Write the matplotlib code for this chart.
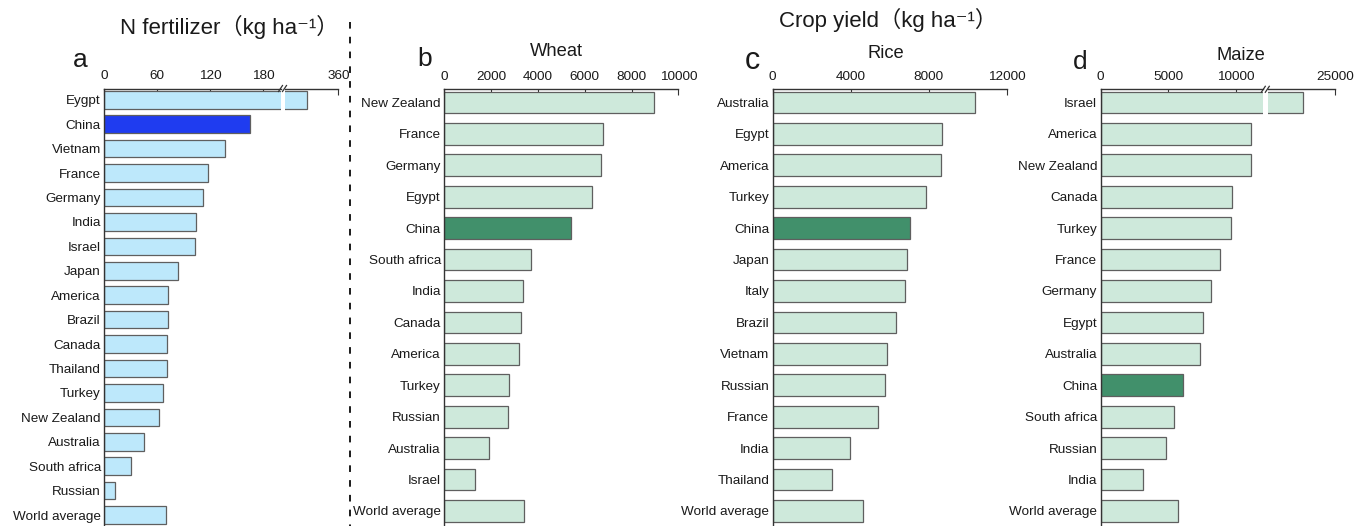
import matplotlib
matplotlib.use("Agg")
import matplotlib.pyplot as plt
from matplotlib.lines import Line2D

plt.rcParams['font.family'] = ['Liberation Sans', 'Noto Sans CJK SC', 'DejaVu Sans']
plt.rcParams['text.color'] = '#1a1a1a'
plt.rcParams['xtick.color'] = '#333333'
plt.rcParams['ytick.color'] = '#333333'
plt.rcParams['xtick.labelcolor'] = '#1a1a1a'
plt.rcParams['ytick.labelcolor'] = '#1a1a1a'

# ---- data -------------------------------------------------------------
n_countries = ["Eygpt", "China", "Vietnam", "France", "Germany", "India", "Israel",
               "Japan", "America", "Brazil", "Canada", "Thailand", "Turkey",
               "New Zealand", "Australia", "South africa", "Russian", "World average"]
n_rates = [325, 165, 137, 117, 112, 104, 103, 83, 72, 72, 71, 71, 66, 62, 45, 30, 12, 70]

wheat_countries = ["New Zealand", "France", "Germany", "Egypt", "China", "South africa",
                   "India", "Canada", "America", "Turkey", "Russian", "Australia",
                   "Israel", "World average"]
wheat_yield = [8970, 6780, 6680, 6300, 5430, 3720, 3380, 3270, 3200, 2750, 2740, 1920, 1330, 3420]

rice_countries = ["Australia", "Egypt", "America", "Turkey", "China", "Japan", "Italy",
                  "Brazil", "Vietnam", "Russian", "France", "India", "Thailand",
                  "World average"]
rice_yield = [10380, 8670, 8650, 7850, 7030, 6870, 6790, 6320, 5850, 5770, 5390, 3960, 3060, 4620]

maize_countries = ["Israel", "America", "New Zealand", "Canada", "Turkey", "France",
                   "Germany", "Egypt", "Australia", "China", "South africa", "Russian",
                   "India", "World average"]
maize_yield = [22570, 11070, 11070, 9710, 9630, 8790, 8130, 7520, 7320, 6100, 5410, 4820, 3090, 5710]

n_ticks = [0, 60, 120, 180]
wheat_ticks = [0, 2000, 4000, 6000, 8000, 10000]
rice_ticks = [0, 4000, 8000, 12000]
maize_ticks = [0, 5000, 10000]

# ---- styling ------------------------------------------------------------
BLUE_LIGHT, BLUE_DARK = '#bde8fb', '#1f3cf0'
GREEN_LIGHT, GREEN_DARK = '#cee9db', '#41906b'
EDGE = '#5f5f5f'
W, H = 1370, 526
FS_TICK = 9.7


def px_axes(x0, x1, top):
    return fig.add_axes([x0 / W, 0, (x1 - x0) / W, 1 - top / H])


def style(ax, ticks, ylim, labels=None, left=True):
    ax.set_ylim(*ylim)
    for s in ('right', 'bottom'):
        ax.spines[s].set_visible(False)
    ax.spines['left'].set_visible(left)
    for s in ('top', 'left'):
        ax.spines[s].set_color('#333333')
        ax.spines[s].set_linewidth(1.0)
    ax.xaxis.tick_top()
    ax.set_xticks(ticks)
    ax.set_xticklabels([str(t) for t in ticks])
    ax.tick_params(axis='x', direction='in', length=4, width=0.8, pad=4.5,
                   labelsize=FS_TICK)
    if labels is not None:
        ax.set_yticks(range(len(labels)))
        ax.set_yticklabels(labels)
        ax.tick_params(axis='y', direction='in', length=3, width=0.8, pad=2.5,
                       labelsize=FS_TICK)
    else:
        ax.set_yticks([])


def bars(ax, labels, values, light, dark, height):
    colors = [dark if c == "China" else light for c in labels]
    ax.barh(range(len(labels)), values, height=height, color=colors,
            edgecolor=EDGE, linewidth=0.9, zorder=2)


def break_marks(ax_left, x_px):
    # small double slash on the top spine at the axis break
    y = H - ax_left.get_position().y1 * H
    for dx in (-2.5, 1.5):
        fig.add_artist(Line2D([(x_px + dx - 2) / W, (x_px + dx + 2) / W],
                              [1 - (y + 3) / H, 1 - (y - 3) / H],
                              color='#333333', lw=0.9))


fig = plt.figure(figsize=(W / 100, H / 100), dpi=100)

# ---- panel a: N fertilizer with broken axis ----------------------------
top_a = 88.5
ylim_a = (len(n_countries) - 1 + 0.45, -0.46)
a1 = px_axes(104.3, 281.0, top_a)
a2 = px_axes(285.0, 338.3, top_a)
bars(a1, n_countries, n_rates, BLUE_LIGHT, BLUE_DARK, 0.72)
bars(a2, n_countries, n_rates, BLUE_LIGHT, BLUE_DARK, 0.72)
a1.set_xlim(0, 200)
a2.set_xlim(300, 360)
style(a1, n_ticks, ylim_a, n_countries)
style(a2, [360], ylim_a, None, left=False)
break_marks(a1, 283.0)

# ---- panels b, c: wheat and rice ---------------------------------------
top_b = 89.3
ylim_b = (len(wheat_countries) - 1 + 0.48, -0.42)
axb = px_axes(444.3, 678.3, top_b)
bars(axb, wheat_countries, wheat_yield, GREEN_LIGHT, GREEN_DARK, 0.69)
axb.set_xlim(0, 10000)
style(axb, wheat_ticks, ylim_b, wheat_countries)

axc = px_axes(772.7, 1006.7, top_b)
bars(axc, rice_countries, rice_yield, GREEN_LIGHT, GREEN_DARK, 0.69)
axc.set_xlim(0, 12000)
style(axc, rice_ticks, ylim_b, rice_countries)

# ---- panel d: maize with broken axis -----------------------------------
d1 = px_axes(1100.7, 1263.3, top_b)
d2 = px_axes(1268.3, 1335.3, top_b)
bars(d1, maize_countries, maize_yield, GREEN_LIGHT, GREEN_DARK, 0.69)
bars(d2, maize_countries, maize_yield, GREEN_LIGHT, GREEN_DARK, 0.69)
d1.set_xlim(0, 12000)
d2.set_xlim(20000, 25000)
style(d1, maize_ticks, ylim_b, maize_countries)
style(d2, [25000], ylim_b, None, left=False)
break_marks(d1, 1265.8)

# ---- titles, panel letters, divider ------------------------------------
def ftext(x, y, s, **kw):
    fig.text(x / W, 1 - y / H, s, **kw)


ftext(229, 27, "N fertilizer（kg ha⁻¹）", fontsize=16, ha='center', va='center')
ftext(888, 20, "Crop yield（kg ha⁻¹）", fontsize=16, ha='center', va='center')

ftext(556, 52, "Wheat", fontsize=13.2, ha='center', va='center')
ftext(886, 54, "Rice", fontsize=13.2, ha='center', va='center')
ftext(1241, 56, "Maize", fontsize=13.2, ha='center', va='center')

ftext(80, 67, "a", fontsize=19, ha='center', va='baseline')
ftext(425, 66, "b", fontsize=19, ha='center', va='baseline')
ftext(752, 69, "c", fontsize=22, ha='center', va='baseline')
ftext(1080, 69, "d", fontsize=19, ha='center', va='baseline')

fig.add_artist(Line2D([350 / W, 350 / W], [1 - 22 / H, 0], color='#1a1a1a',
                      lw=1.4, linestyle=(0, (3.4, 4.2))))

fig.savefig("out.png", dpi=100)
